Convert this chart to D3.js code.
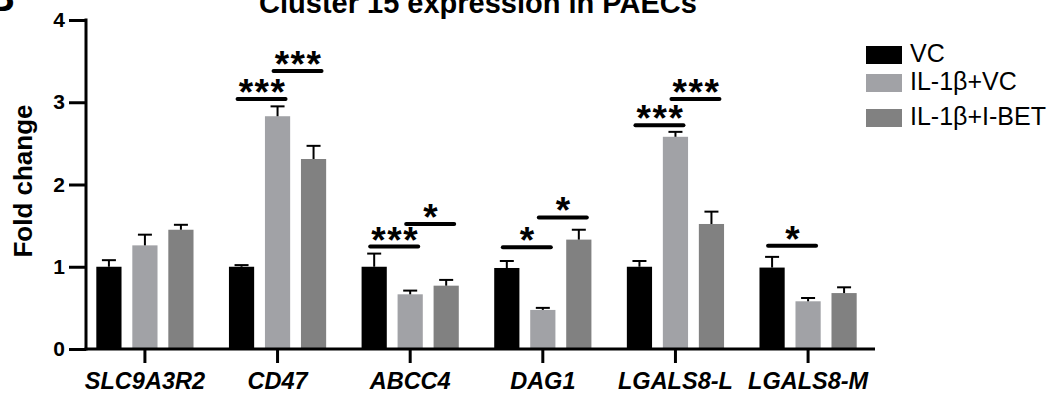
<!DOCTYPE html>
<html>
<head>
<meta charset="utf-8">
<script src="https://cdn.jsdelivr.net/npm/d3@7"></script>
<style>
  html, body { margin: 0; padding: 0; background: #fff; }
  svg { display: block; }
  text { font-family: "Liberation Sans", Arial, Helvetica, sans-serif; }
</style>
</head>
<body>
<svg id="chart" width="1055" height="394"></svg>
<script>
// ---- data ----
const categories = ["SLC9A3R2", "CD47", "ABCC4", "DAG1", "LGALS8-L", "LGALS8-M"];
const seriesNames = ["VC", "IL-1β+VC", "IL-1β+I-BET"];
const seriesColors = ["#000000", "#a1a2a6", "#818181"];
const vcValues     = [1.00, 1.00, 1.00, 0.985, 1.00, 0.99];
const vcErrors     = [0.08, 0.02, 0.16, 0.085, 0.07, 0.13];
const ilValues     = [1.26, 2.83, 0.665, 0.475, 2.58, 0.58];
const ilErrors     = [0.13, 0.12, 0.045, 0.025, 0.06, 0.04];
const ibetValues   = [1.45, 2.31, 0.77, 1.33, 1.52, 0.68];
const ibetErrors   = [0.06, 0.16, 0.07, 0.12, 0.15, 0.07];
const yTicks = [0, 1, 2, 3, 4];
// significance annotations
const sigCategory = ["CD47", "CD47", "ABCC4", "ABCC4", "DAG1", "DAG1", "LGALS8-L", "LGALS8-L", "LGALS8-M"];
const sigFrom     = [0, 1, 0, 1, 0, 1, 0, 1, 0];
const sigTo       = [1, 2, 1, 2, 1, 2, 1, 2, 1];
const sigLevel    = [3.04, 3.38, 1.245, 1.52, 1.236, 1.60, 2.72, 3.04, 1.255];
const sigLabel    = ["***", "***", "***", "*", "*", "*", "***", "***", "*"];

const titleText = "Cluster 15 expression in PAECs";
const yLabel = "Fold change";

const valueSets = [vcValues, ilValues, ibetValues];
const errorSets = [vcErrors, ilErrors, ibetErrors];
const rows = [];
categories.forEach((c, i) => {
  seriesNames.forEach((s, j) => {
    rows.push({cat: c, series: s, si: j, value: valueSets[j][i], err: errorSets[j][i]});
  });
});

// ---- layout ----
const svg = d3.select("#chart");
const axisX = 86, axisY0 = 349, axisYTop = 20, axisXEnd = 875;

const x = d3.scaleBand().domain(categories).range([78.6, 874.4]).padding(0);
const xs = d3.scaleBand().domain(seriesNames).range([-54, 54]).paddingInner(0.3).paddingOuter(0.15);
const y = d3.scaleLinear().domain([0, 4]).range([axisY0, axisYTop]);
const color = d3.scaleOrdinal().domain(seriesNames).range(seriesColors);
const cx = c => x(c) + x.bandwidth() / 2;
const barCenter = (c, s) => cx(c) + xs(s) + xs.bandwidth() / 2;

// panel letter (cut at top, as in the source figure)
svg.append("text").attr("x", -14).attr("y", 11)
  .attr("font-size", 40).attr("font-weight", "bold").text("B");

// title
svg.append("text").attr("x", 478).attr("y", 13)
  .attr("text-anchor", "middle").attr("font-size", 29).attr("font-weight", "bold")
  .text(titleText);

// bars
svg.append("g").selectAll("rect").data(rows).join("rect")
  .attr("x", d => cx(d.cat) + xs(d.series))
  .attr("width", xs.bandwidth())
  .attr("y", d => y(d.value))
  .attr("height", d => y(0) - y(d.value))
  .attr("fill", d => color(d.series));

// error bars (upper only)
const eg = svg.append("g").attr("stroke", "#000").attr("stroke-width", 2);
eg.selectAll("line.v").data(rows).join("line").attr("class", "v")
  .attr("x1", d => barCenter(d.cat, d.series)).attr("x2", d => barCenter(d.cat, d.series))
  .attr("y1", d => y(d.value)).attr("y2", d => y(d.value + d.err));
eg.selectAll("line.c").data(rows).join("line").attr("class", "c")
  .attr("x1", d => barCenter(d.cat, d.series) - 7).attr("x2", d => barCenter(d.cat, d.series) + 7)
  .attr("y1", d => y(d.value + d.err)).attr("y2", d => y(d.value + d.err));

// y axis
const yAxis = d3.axisLeft(y).tickValues(yTicks).tickSize(17).tickPadding(4).tickFormat(d3.format("d"));
const yg = svg.append("g").attr("transform", `translate(${axisX},0)`).call(yAxis);
yg.select(".domain").remove();
yg.selectAll(".tick line").attr("stroke", "#000").attr("stroke-width", 3);
yg.selectAll(".tick text").attr("font-size", 21).attr("font-weight", "bold").attr("fill", "#000")
  .attr("font-family", "Liberation Sans, Arial, sans-serif");
svg.append("line").attr("x1", axisX).attr("x2", axisX)
  .attr("y1", axisYTop - 1.5).attr("y2", axisY0 + 1.5)
  .attr("stroke", "#000").attr("stroke-width", 3);

// x axis
const xAxis = d3.axisBottom(x).tickSize(14).tickPadding(10);
const xg = svg.append("g").attr("transform", `translate(0,${axisY0})`).call(xAxis);
xg.select(".domain").remove();
xg.selectAll(".tick line").attr("stroke", "#000").attr("stroke-width", 3);
xg.selectAll(".tick text").attr("font-size", 23.5).attr("font-weight", "bold")
  .attr("font-style", "italic").attr("fill", "#000")
  .attr("font-family", "Liberation Sans, Arial, sans-serif")
  .attr("dy", null).attr("y", 40);
svg.append("line").attr("x1", axisX - 1.5).attr("x2", axisXEnd)
  .attr("y1", axisY0).attr("y2", axisY0)
  .attr("stroke", "#000").attr("stroke-width", 3);

// y label
svg.append("text").attr("transform", "translate(32,181) rotate(-90)")
  .attr("text-anchor", "middle").attr("font-size", 26).attr("font-weight", "bold")
  .text(yLabel);

// significance
const sig = sigCategory.map((c, i) => ({cat: c, from: seriesNames[sigFrom[i]], to: seriesNames[sigTo[i]], level: sigLevel[i], label: sigLabel[i]}));
const sg = svg.append("g");
sg.selectAll("line").data(sig).join("line")
  .attr("x1", d => barCenter(d.cat, d.from) - 4)
  .attr("x2", d => barCenter(d.cat, d.to) + 8)
  .attr("y1", d => y(d.level)).attr("y2", d => y(d.level))
  .attr("stroke", "#000").attr("stroke-width", 4).attr("stroke-linecap", "round");
sg.selectAll("text").data(sig).join("text")
  .attr("x", d => (barCenter(d.cat, d.from) + barCenter(d.cat, d.to)) / 2 + 3)
  .attr("y", d => y(d.level) + 6)
  .attr("text-anchor", "middle").attr("font-size", 37).attr("font-weight", "bold")
  .attr("letter-spacing", 1.5)
  .text(d => d.label);

// legend
const legendTops = [46, 74, 109];
const lg = svg.append("g");
seriesNames.forEach((s, i) => {
  lg.append("rect").attr("x", 866).attr("y", legendTops[i]).attr("width", 36).attr("height", 18)
    .attr("fill", color(s));
  lg.append("text").attr("x", 910).attr("y", legendTops[i] + 16)
    .attr("font-size", 25).attr("fill", "#000").text(s);
});
</script>
</body>
</html>
